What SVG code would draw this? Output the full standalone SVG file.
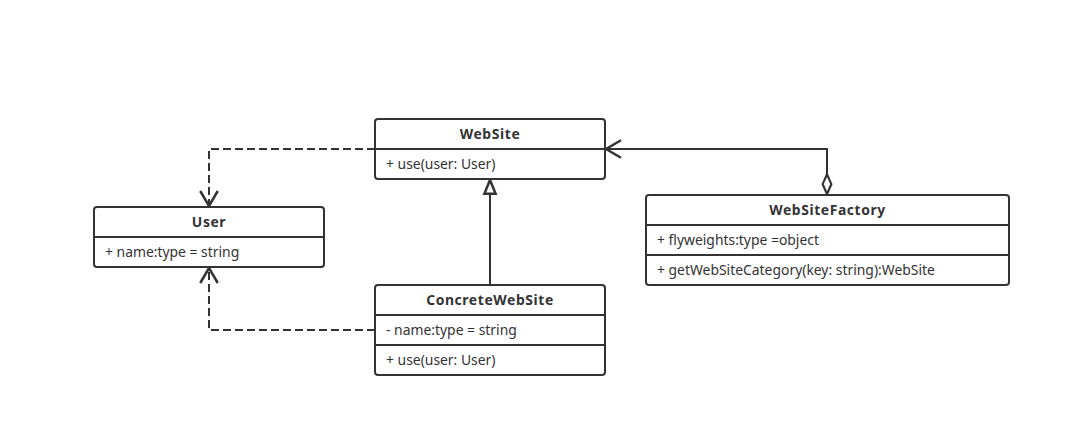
<svg xmlns="http://www.w3.org/2000/svg" width="1071" height="437" viewBox="0 0 1071 437">
<style>
.box{fill:#fff;stroke:#333;stroke-width:2}
.div{stroke:#333;stroke-width:2}
.t{font-family:"Noto Sans","Open Sans",sans-serif;font-size:13.9px;fill:#333}
.h{font-weight:bold;text-anchor:middle;letter-spacing:0.6px}
.ln{fill:none;stroke:#333;stroke-width:2}
.dash{stroke-dasharray:8,4}
</style>
<defs>
<marker id="open" markerWidth="20" markerHeight="20" refX="0" refY="0" viewBox="-14 -8 16 16" orient="auto" markerUnits="userSpaceOnUse">
<path d="M-12,-7 L0,0 L-12,7" fill="none" stroke="#333" stroke-width="2"/>
</marker>
<marker id="tri" markerWidth="20" markerHeight="20" refX="0" refY="0" viewBox="-14 -8 16 16" orient="auto" markerUnits="userSpaceOnUse">
<path d="M-11,-4.5 L0,0 L-11,4.5 Z" fill="#fff" stroke="#333" stroke-width="2"/>
</marker>
<marker id="dia" markerWidth="24" markerHeight="20" refX="0" refY="0" viewBox="-20 -8 22 16" orient="auto" markerUnits="userSpaceOnUse">
<path d="M0,0 L-9,-4 L-18,0 L-9,4 Z" fill="#fff" stroke="#333" stroke-width="2"/>
</marker>
</defs>
<g id="connectors">
<path class="ln dash" d="M375,149 H209 V206" marker-end="url(#open)"/>
<path class="ln dash" d="M375,330 H209 V268" marker-end="url(#open)"/>
<path class="ln" d="M490,285 V180" marker-end="url(#tri)"/>
<path class="ln" d="M827,177 V149 H606" marker-end="url(#open)"/>
<path class="ln" d="M827,177 V194" marker-end="url(#dia)"/>
</g>
<g id="WebSite">
<rect class="box" x="375" y="119" width="230" height="60" rx="3"/>
<line class="div" x1="375" y1="149" x2="605" y2="149"/>
<text class="t h" x="490" y="139">WebSite</text>
<text class="t" x="386" y="169">+ use(user: User)</text>
</g>
<g id="User">
<rect class="box" x="94" y="207" width="230" height="60" rx="3"/>
<line class="div" x1="94" y1="237" x2="324" y2="237"/>
<text class="t h" x="209" y="227">User</text>
<text class="t" x="105" y="257">+ name:type = string</text>
</g>
<g id="ConcreteWebSite">
<rect class="box" x="375" y="285" width="230" height="90" rx="3"/>
<line class="div" x1="375" y1="315" x2="605" y2="315"/>
<line class="div" x1="375" y1="345" x2="605" y2="345"/>
<text class="t h" x="490" y="305">ConcreteWebSite</text>
<text class="t" x="386" y="335">- name:type = string</text>
<text class="t" x="386" y="365">+ use(user: User)</text>
</g>
<g id="WebSiteFactory">
<rect class="box" x="646" y="195" width="363" height="90" rx="3"/>
<line class="div" x1="646" y1="225" x2="1009" y2="225"/>
<line class="div" x1="646" y1="255" x2="1009" y2="255"/>
<text class="t h" x="827.5" y="215">WebSiteFactory</text>
<text class="t" x="657" y="245">+ flyweights:type =object</text>
<text class="t" x="657" y="275">+ getWebSiteCategory(key: string):WebSite</text>
</g>
</svg>
